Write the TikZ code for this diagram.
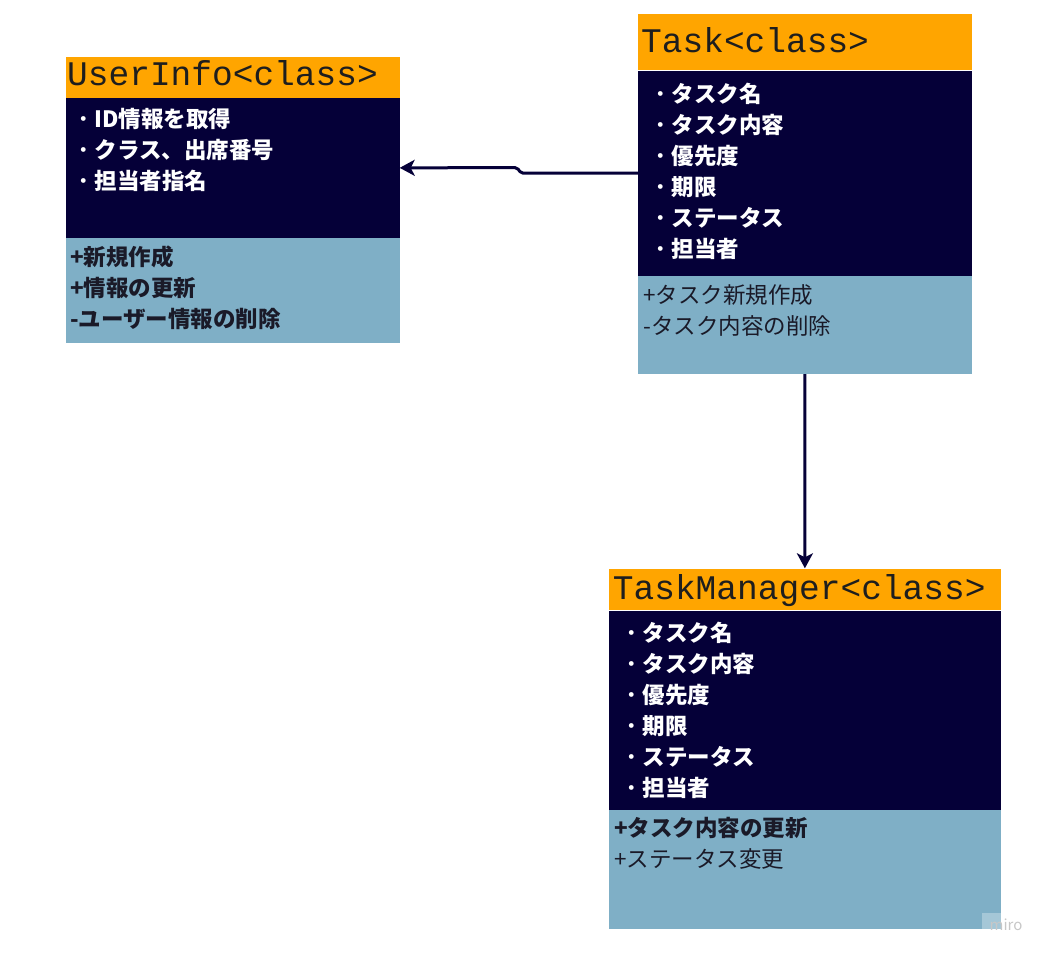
\documentclass[tikz,border=0pt]{standalone}
\usepackage{fontspec}
\setmainfont{Noto Sans CJK JP}
\newfontfamily\hdrfont{Liberation Mono}
\usetikzlibrary{arrows.meta,positioning}
\definecolor{hdrorange}{HTML}{FFA500}
\definecolor{attrnavy}{HTML}{050038}
\definecolor{opsblue}{HTML}{7FAFC6}
\definecolor{hdrtext}{HTML}{1E1E1E}
\definecolor{opstext}{HTML}{1A1A28}
\newcommand{\dotitem}{{\mdseries ・}}
\tikzset{
    %Define standard arrow tip
    >={Stealth[length=15bp,width=16bp,inset=4bp]},
    %Define styles for the class parts
    classhead/.style={
           rectangle,
           anchor=north west,
           inner sep=0pt,
           fill=hdrorange},
    classattr/.style={
           rectangle,
           anchor=north west,
           inner sep=0pt,
           fill=attrnavy},
    classops/.style={
           rectangle,
           anchor=north west,
           inner sep=0pt,
           fill=opsblue},
    % Define text styles
    headtext/.style={
           anchor=base west,
           inner sep=0pt,
           text=hdrtext,
           font=\hdrfont\fontsize{34.5bp}{34.5bp}\selectfont},
    itemtext/.style={
           anchor=base west,
           inner sep=0pt,
           align=left,
           font=\fontsize{22.5bp}{31bp}\selectfont},
    itembold/.style={
           itemtext,
           font=\bfseries\fontsize{22.5bp}{31bp}\selectfont},
    % Define arrow style
    link/.style={
           ->,
           line width=3bp,
           draw=attrnavy,
           rounded corners=2bp}
}
\begin{document}
\begin{tikzpicture}[x=1bp,y=-1bp]
\useasboundingbox (0,0) rectangle (1046,955);

 %UserInfo
\node[classhead, minimum width=333.3bp, minimum height=40.5bp] (uhead) at (66,57) {};
\node[classattr, minimum width=333.3bp, minimum height=139.5bp] (uattr) at (uhead.south west) {};
\node[classops, minimum width=333.3bp, minimum height=104.5bp] (uops) at (uattr.south west) {};
\node[headtext] (uname) at (67,85) {UserInfo<class>};
\node[itembold, text=white] (uattrtext) at (72,189) {\dotitem ID情報を取得\\\dotitem クラス、出席番号\\\dotitem 担当者指名};
\node[itembold, text=opstext] (uopstext) at (70,327) {+新規作成\\+情報の更新\\-ユーザー情報の削除};

 %Task
\node[classhead, minimum width=333.5bp, minimum height=56bp] (taskhead) at (638,14) {};
\node[classattr, minimum width=333.5bp, minimum height=205bp] (taskattr) at (taskhead.south west) {};
\node[classops, minimum width=333.5bp, minimum height=98bp] (taskops) at (taskattr.south west) {};
\node[headtext] (taskname) at (641,52) {Task<class>};
\node[itembold, text=white] (taskattrtext) at (649,257) {\dotitem タスク名\\\dotitem タスク内容\\\dotitem 優先度\\\dotitem 期限\\\dotitem ステータス\\\dotitem 担当者};
\node[itemtext, text=opstext] (taskopstext) at (643,334) {+タスク新規作成\\-タスク内容の削除};

 %TaskManager
\node[classhead, minimum width=392bp, minimum height=41.7bp] (tmhead) at (608.7,568.3) {};
\node[classattr, minimum width=392bp, minimum height=199bp] (tmattr) at (tmhead.south west) {};
\node[classops, minimum width=392bp, minimum height=119bp] (tmops) at (tmattr.south west) {};
\node[headtext] (tmname) at (612.7,599.5) {TaskManager<class>};
\node[itembold, text=white] (tmattrtext) at (620,796) {\dotitem タスク名\\\dotitem タスク内容\\\dotitem 優先度\\\dotitem 期限\\\dotitem ステータス\\\dotitem 担当者};
\node[itemtext, text=opstext] (tmopstext) at (614,867) {{\bfseries +タスク内容の更新}\\+ステータス変更};

 %watermark
\node[fill=white, fill opacity=0.3, text opacity=1, text=black!22,
      minimum width=48bp, minimum height=24bp, inner sep=0pt,
      font=\fontsize{15bp}{15bp}\selectfont] (miro) at (1006,925) {miro};

 %links
\draw[link] (taskattr.west) -- ++(-117,0) -- ++(-4,-5.5) -- (uattr.east);
\draw[link] (taskops.south) -- (tmhead.north);

\end{tikzpicture}
\end{document}
